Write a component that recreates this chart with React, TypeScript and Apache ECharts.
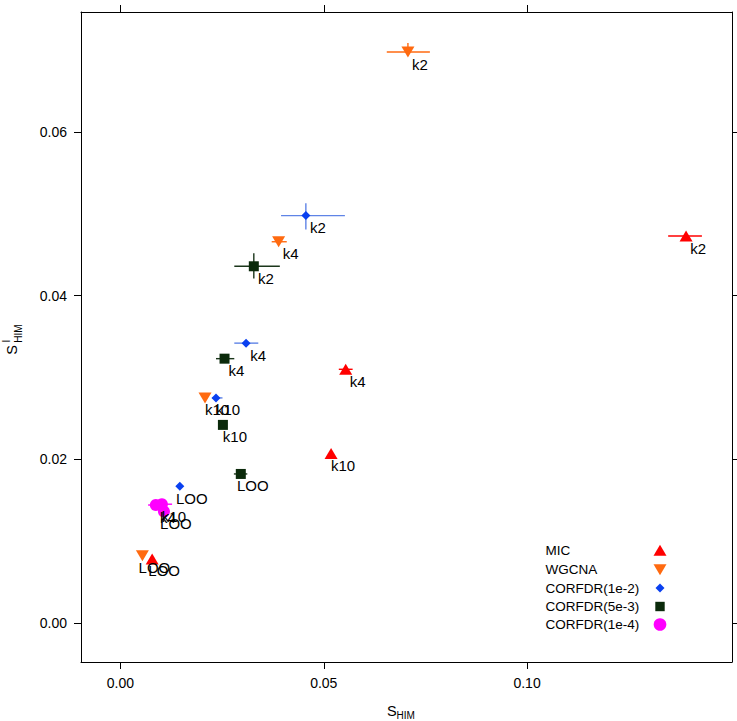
import React, { useEffect, useRef } from "react";
import * as echarts from "echarts";

const xTicks = [0, 0.05, 0.1];
const yTicks = [0, 0.02, 0.04, 0.06];

const methodNames = ["MIC", "WGCNA", "CORFDR(1e-2)", "CORFDR(5e-3)", "CORFDR(1e-4)"];

const micLabels = ["k2", "k4", "k10", "LOO"];
const micX = [0.1391, 0.0554, 0.0518, 0.0078];
const micY = [0.0473, 0.031, 0.0207, 0.0078];
const micXLo = [0.1347, 0.0537, null, null];
const micXHi = [0.143, 0.0571, null, null];
const micYLo = [null, null, null, null];
const micYHi = [null, null, null, null];

const wgcnaLabels = ["k2", "k4", "k10", "LOO"];
const wgcnaX = [0.0707, 0.0389, 0.0208, 0.0054];
const wgcnaY = [0.0698, 0.0466, 0.0275, 0.0082];
const wgcnaXLo = [0.0655, 0.0372, null, null];
const wgcnaXHi = [0.0761, 0.0409, null, null];
const wgcnaYLo = [0.0696, null, null, null];
const wgcnaYHi = [0.0709, null, null, null];

const fdr1Labels = ["k2", "k4", "k10", "LOO"];
const fdr1X = [0.0456, 0.0309, 0.0235, 0.0146];
const fdr1Y = [0.0498, 0.0342, 0.0275, 0.0167];
const fdr1XLo = [0.0395, 0.028, 0.0225, null];
const fdr1XHi = [0.0552, 0.0339, 0.0251, null];
const fdr1YLo = [0.0481, null, null, null];
const fdr1YHi = [0.0513, null, null, null];

const fdr2Labels = ["k2", "k4", "k10", "LOO"];
const fdr2X = [0.0328, 0.0256, 0.0252, 0.0296];
const fdr2Y = [0.0436, 0.0323, 0.0242, 0.0182];
const fdr2XLo = [0.028, 0.0235, null, 0.0279];
const fdr2XHi = [0.0392, 0.028, null, 0.0312];
const fdr2YLo = [0.0421, null, null, null];
const fdr2YHi = [0.0452, null, null, null];

const fdr3Labels = ["k4", "k10", "LOO"];
const fdr3X = [0.0087, 0.0102, 0.0107];
const fdr3Y = [0.0144, 0.0145, 0.0136];
const fdr3XLo = [0.0068, 0.008, null];
const fdr3XHi = [0.011, 0.0127, null];
const fdr3YLo = [null, null, null];
const fdr3YHi = [null, null, null];

const FONT = "Liberation Sans, Arial, Helvetica, sans-serif";

type Group = {
  name: string;
  labels: string[];
  x: number[];
  y: number[];
  xLo: (number | null)[];
  xHi: (number | null)[];
  yLo: (number | null)[];
  yHi: (number | null)[];
  color: string;
  barColor: string;
  symbol: string;
  symbolSize: number | number[];
  symbolRotate: number;
};

const groups: Group[] = [
  { name: methodNames[0], labels: micLabels, x: micX, y: micY, xLo: micXLo, xHi: micXHi, yLo: micYLo, yHi: micYHi, color: "#FF0000", barColor: "#FF0000", symbol: "triangle", symbolSize: [13, 11], symbolRotate: 0 },
  { name: methodNames[1], labels: wgcnaLabels, x: wgcnaX, y: wgcnaY, xLo: wgcnaXLo, xHi: wgcnaXHi, yLo: wgcnaYLo, yHi: wgcnaYHi, color: "#FF6A10", barColor: "#FF6A10", symbol: "triangle", symbolSize: [13, 11], symbolRotate: 180 },
  { name: methodNames[2], labels: fdr1Labels, x: fdr1X, y: fdr1Y, xLo: fdr1XLo, xHi: fdr1XHi, yLo: fdr1YLo, yHi: fdr1YHi, color: "#0A40F0", barColor: "#5F84E6", symbol: "diamond", symbolSize: [9, 9], symbolRotate: 0 },
  { name: methodNames[3], labels: fdr2Labels, x: fdr2X, y: fdr2Y, xLo: fdr2XLo, xHi: fdr2XHi, yLo: fdr2YLo, yHi: fdr2YHi, color: "#0B2A0B", barColor: "#1B361B", symbol: "rect", symbolSize: [10, 10], symbolRotate: 0 },
  { name: methodNames[4], labels: fdr3Labels, x: fdr3X, y: fdr3Y, xLo: fdr3XLo, xHi: fdr3XHi, yLo: fdr3YLo, yHi: fdr3YHi, color: "#FF00FF", barColor: "#FF00FF", symbol: "circle", symbolSize: 12, symbolRotate: 0 },
];

function buildSeries() {
  const out: any[] = [];
  groups.forEach((g) => {
    const barData = g.x.map((xv, i) => [
      xv,
      g.y[i],
      g.xLo[i] ?? xv,
      g.xHi[i] ?? xv,
      g.yLo[i] ?? g.y[i],
      g.yHi[i] ?? g.y[i],
    ]);
    out.push({
      type: "custom",
      name: g.name + " err",
      xAxisIndex: 0,
      yAxisIndex: 0,
      encode: { x: 0, y: 1 },
      data: barData,
      silent: true,
      renderItem: (params: any, api: any) => {
        const xv = api.value(0);
        const yv = api.value(1);
        const xl = api.value(2);
        const xh = api.value(3);
        const yl = api.value(4);
        const yh = api.value(5);
        const children: any[] = [];
        if (xl !== xh) {
          const a = api.coord([xl, yv]);
          const b = api.coord([xh, yv]);
          children.push({ type: "line", shape: { x1: a[0], y1: a[1], x2: b[0], y2: b[1] }, style: { stroke: g.barColor, lineWidth: 1.4 } });
        }
        if (yl !== yh) {
          const a = api.coord([xv, yl]);
          const b = api.coord([xv, yh]);
          children.push({ type: "line", shape: { x1: a[0], y1: a[1], x2: b[0], y2: b[1] }, style: { stroke: g.barColor, lineWidth: 1.4 } });
        }
        return { type: "group", children };
      },
    });
    out.push({
      type: "scatter",
      name: g.name,
      xAxisIndex: 0,
      yAxisIndex: 0,
      symbol: g.symbol,
      symbolSize: g.symbolSize,
      symbolRotate: g.symbolRotate,
      itemStyle: { color: g.color, opacity: 1 },
      data: g.x.map((xv, i) => ({ value: [xv, g.y[i]], name: g.labels[i] })),
      label: {
        show: true,
        position: "inside",
        offset: [12, 12],
        formatter: (p: any) => p.name,
        color: "#000",
        fontSize: 15,
        fontFamily: FONT,
        textBorderWidth: 0,
      },
      emphasis: { disabled: true },
    });
  });
  return out;
}

const legendRows = [550.7, 569.2, 588, 606.5, 624.5];

function buildGraphic() {
  const els: any[] = [];
  methodNames.forEach((n, i) => {
    els.push({
      type: "text",
      x: 545.5,
      y: legendRows[i],
      style: { text: n, fontSize: 13.5, fontFamily: FONT, fill: "#000", align: "left", verticalAlign: "middle" },
    });
  });
  const cx = 660;
  els.push({ type: "polygon", shape: { points: [[cx, legendRows[0] - 6], [cx + 6.5, legendRows[0] + 5], [cx - 6.5, legendRows[0] + 5]] }, style: { fill: "#FF0000" } });
  els.push({ type: "polygon", shape: { points: [[cx - 6.5, legendRows[1] - 5], [cx + 6.5, legendRows[1] - 5], [cx, legendRows[1] + 6]] }, style: { fill: "#FF6A10" } });
  els.push({ type: "polygon", shape: { points: [[cx, legendRows[2] - 4.5], [cx + 4.5, legendRows[2]], [cx, legendRows[2] + 4.5], [cx - 4.5, legendRows[2]]] }, style: { fill: "#0A40F0" } });
  els.push({ type: "rect", shape: { x: cx - 4.7, y: legendRows[3] - 4.7, width: 9.4, height: 9.4 }, style: { fill: "#0B2A0B" } });
  els.push({ type: "circle", shape: { cx, cy: legendRows[4], r: 6.3 }, style: { fill: "#FF00FF" } });

  // x axis title: S_HIM
  els.push({ type: "text", x: 387, y: 711, style: { text: "S", fontSize: 14.5, fontFamily: FONT, fill: "#000", align: "left", verticalAlign: "middle" } });
  els.push({ type: "text", x: 396.5, y: 715, style: { text: "HIM", fontSize: 10, fontFamily: FONT, fill: "#000", align: "left", verticalAlign: "middle" } });
  // y axis title: S^I_HIM rotated
  els.push({ type: "text", x: 12, y: 350, rotation: Math.PI / 2, style: { text: "S", fontSize: 14.5, fontFamily: FONT, fill: "#000", align: "center", verticalAlign: "middle" } });
  els.push({ type: "text", x: 6.5, y: 341, rotation: Math.PI / 2, style: { text: "I", fontSize: 10, fontFamily: FONT, fill: "#000", align: "center", verticalAlign: "middle" } });
  els.push({ type: "text", x: 18.5, y: 333.5, rotation: Math.PI / 2, style: { text: "HIM", fontSize: 10, fontFamily: FONT, fill: "#000", align: "center", verticalAlign: "middle" } });
  return els;
}

const X_MIN = -0.0097;
const X_MAX = 0.1504;
const Y_MIN = -0.0048;
const Y_MAX = 0.0747;

export default function App() {
  const ref = useRef<HTMLDivElement>(null);
  useEffect(() => {
    if (!ref.current) return;
    const chart = echarts.init(ref.current, undefined, { renderer: "svg" });
    const axisLineStyle = { show: true, onZero: false, lineStyle: { color: "#000", width: 1 } };
    const tickStyle = { length: 7, lineStyle: { color: "#000", width: 1 } };
    const labelStyle = { color: "#000", fontSize: 14, fontFamily: FONT };
    chart.setOption({
      animation: false,
      backgroundColor: "#fff",
      grid: { left: 81, right: 5, top: 12, bottom: 59, containLabel: false },
      xAxis: [
        {
          type: "value",
          position: "bottom",
          min: X_MIN,
          max: X_MAX,
          splitLine: { show: false },
          axisLine: axisLineStyle,
          axisTick: { show: true, customValues: xTicks, ...tickStyle },
          axisLabel: { show: true, customValues: xTicks, formatter: (v: number) => v.toFixed(2), margin: 14, ...labelStyle },
        },
        {
          type: "value",
          position: "top",
          min: X_MIN,
          max: X_MAX,
          splitLine: { show: false },
          axisLine: axisLineStyle,
          axisTick: { show: true, customValues: xTicks, ...tickStyle },
          axisLabel: { show: false },
        },
      ],
      yAxis: [
        {
          type: "value",
          position: "left",
          min: Y_MIN,
          max: Y_MAX,
          splitLine: { show: false },
          axisLine: axisLineStyle,
          axisTick: { show: true, customValues: yTicks, ...tickStyle },
          axisLabel: { show: true, customValues: yTicks, formatter: (v: number) => v.toFixed(2), margin: 14, ...labelStyle },
        },
        {
          type: "value",
          position: "right",
          min: Y_MIN,
          max: Y_MAX,
          splitLine: { show: false },
          axisLine: axisLineStyle,
          axisTick: { show: true, customValues: yTicks, ...tickStyle },
          axisLabel: { show: false },
        },
      ],
      series: buildSeries(),
      graphic: buildGraphic(),
    });
    return () => chart.dispose();
  }, []);
  return <div ref={ref} style={{ position: "fixed", left: 0, top: 0, width: 737, height: 721 }} />;
}
